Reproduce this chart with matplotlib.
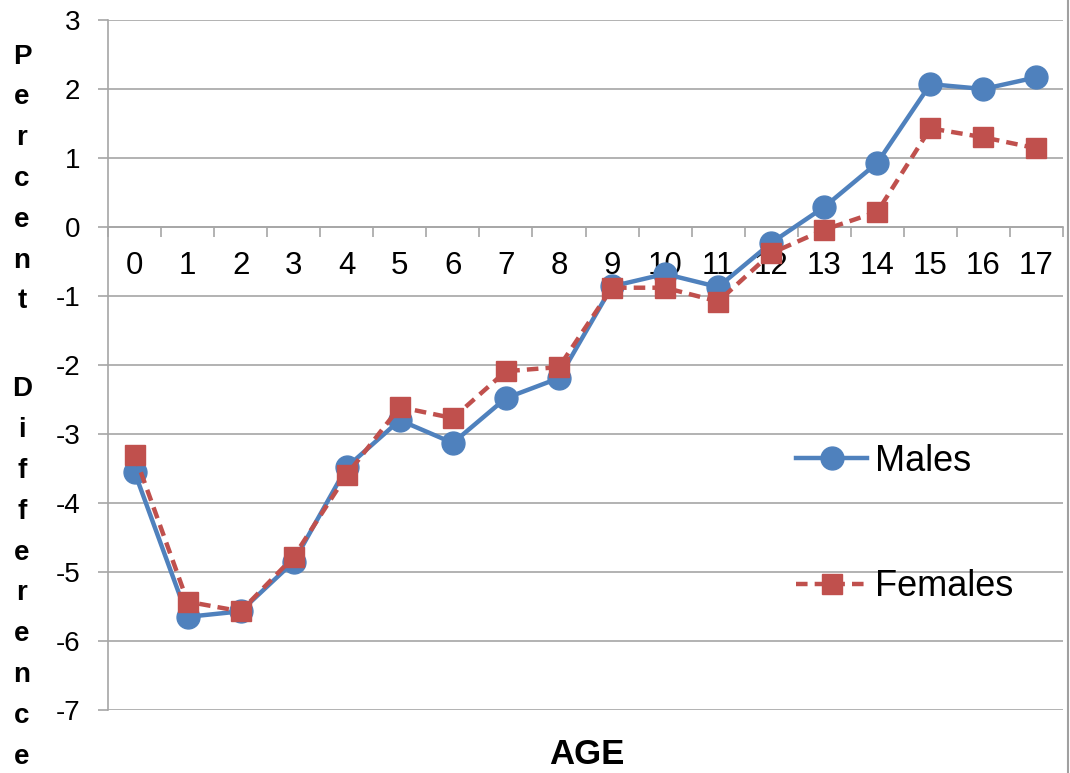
import matplotlib
matplotlib.use("Agg")
import matplotlib.pyplot as plt
from matplotlib.lines import Line2D
import numpy as np

plt.rcParams['font.family'] = ['Liberation Sans', 'DejaVu Sans']

ages = list(range(18))
age_labels = [str(a) for a in ages]
males = [-3.55, -5.65, -5.57, -4.85, -3.48, -2.80, -3.13, -2.48, -2.19,
         -0.86, -0.68, -0.87, -0.23, 0.29, 0.93, 2.07, 2.00, 2.17]
females = [-3.30, -5.43, -5.57, -4.78, -3.59, -2.61, -2.77, -2.09, -2.03,
           -0.88, -0.88, -1.08, -0.38, -0.04, 0.22, 1.43, 1.30, 1.14]
y_ticks = list(range(-7, 4))

blue = '#4F81BD'
red = '#C0504D'
grid_gray = '#A6A6A6'

W, H = 1070, 773
fig = plt.figure(figsize=(W / 100, H / 100), dpi=100)
ax = fig.add_axes([108 / W, (H - 710) / H, (1063 - 108) / W, (710 - 20) / H])

x = np.arange(len(ages))
ax.plot(x, males, color=blue, lw=3.2, marker='o', ms=16.5,
        markerfacecolor=blue, markeredgecolor=blue, zorder=3, label='Males')
ax.plot(x, females, color=red, lw=3.2, ls=(0, (2.6, 1.6)), marker='s', ms=14.5,
        markerfacecolor=red, markeredgecolor=red, zorder=4, label='Females')

ax.set_xlim(-0.5, len(ages) - 0.5)
ax.set_ylim(-7, 3)

# horizontal gridlines
ax.set_yticks(y_ticks)
ax.set_yticklabels([str(v) for v in y_ticks], fontsize=20)
ax.yaxis.grid(True, color=grid_gray, lw=1.2)
ax.set_axisbelow(True)
ax.tick_params(axis='y', direction='out', length=7, width=1.2,
               color=grid_gray, pad=13)

# category axis crossing at zero
ax.spines['bottom'].set_position(('data', 0))
ax.spines['bottom'].set_color(grid_gray)
ax.spines['bottom'].set_linewidth(1.2)
ax.spines['left'].set_color(grid_gray)
ax.spines['left'].set_linewidth(1.2)
ax.spines['top'].set_visible(False)
ax.spines['right'].set_visible(False)

ax.set_xticks(x)
ax.set_xticklabels(age_labels, fontsize=22.5)
ax.set_xticks(np.arange(-0.5, len(ages), 1.0), minor=True)
ax.tick_params(axis='x', which='major', length=0, pad=17.5)
ax.tick_params(axis='x', which='minor', direction='out', length=7,
               width=1.2, color=grid_gray)

# stacked vertical axis title
fig.text(22 / W, 1 - 179 / H, "\n".join("Percent"), ha='center', va='center',
         fontsize=20, fontweight='bold', linespacing=1.74)
fig.text(22 / W, 1 - 573 / H, "\n".join("Difference"), ha='center',
         va='center', fontsize=20, fontweight='bold', linespacing=1.74)

fig.text(587 / W, 1 - 755 / H, "AGE", ha='center', va='center',
         fontsize=25, fontweight='bold')

leg = ax.legend(loc='upper left', bbox_to_anchor=(796 / W, 1 - 444 / H),
                bbox_transform=fig.transFigure, frameon=False, fontsize=26,
                handlelength=1.97, handletextpad=0.22, labelspacing=2.5,
                borderpad=0, borderaxespad=0)

# chart-area edge on the right
fig.add_artist(Line2D([1067.5 / W, 1067.5 / W], [0, 1],
                      transform=fig.transFigure, color='#A0A0A0', lw=1.5))

fig.savefig('out.png', dpi=100)
